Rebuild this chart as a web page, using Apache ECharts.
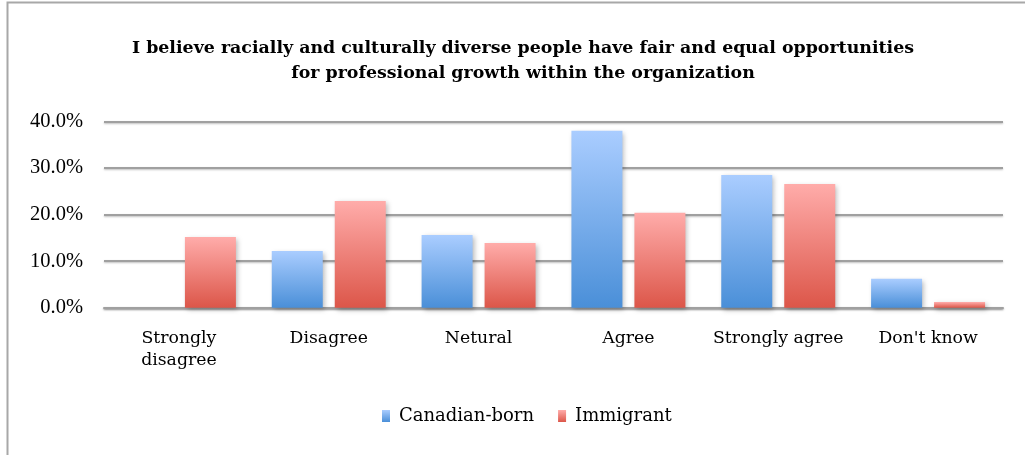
<!DOCTYPE html>
<html>
<head>
<meta charset="utf-8">
<script src="https://cdn.jsdelivr.net/npm/echarts@6/dist/echarts.min.js"></script>
<style>
html,body{margin:0;padding:0;background:#fff;}
#c{width:1025px;height:455px;}
</style>
</head>
<body>
<div id="c"></div>
<script>
const titleText = 'I believe racially and culturally diverse people have fair and equal opportunities\nfor professional growth within the organization';
const categories = ['Strongly disagree', 'Disagree', 'Netural', 'Agree', 'Strongly agree', "Don't know"];
const canadianBorn = [0, 12.2, 15.6, 38.0, 28.5, 6.2];
const immigrant = [15.2, 22.9, 13.9, 20.4, 26.6, 1.2];
const yTicks = { min: 0, max: 40, interval: 10 };

const chart = echarts.init(document.getElementById('c'), null, { renderer: 'canvas' });

function grad(top, bottom) {
  return new echarts.graphic.LinearGradient(0, 0, 0, 1, [
    { offset: 0, color: top },
    { offset: 1, color: bottom }
  ]);
}
const blue = grad('#aacdff', '#4a8fd8');
const red = grad('#ffacaa', '#dc5649');
const barShadow = { shadowBlur: 5, shadowColor: 'rgba(0,0,0,0.28)', shadowOffsetX: 2, shadowOffsetY: 2 };

chart.setOption({
  backgroundColor: '#fff',
  animation: false,
  graphic: [{
    type: 'rect',
    shape: { x: 7.5, y: 2.5, width: 1040, height: 470 },
    style: { fill: 'none', stroke: '#a8a8a8', lineWidth: 2 },
    silent: true,
    z: 0
  }],
  title: {
    text: titleText,
    left: 518,
    top: 31,
    textAlign: 'center',
    textStyle: {
      fontFamily: 'DejaVu Serif',
      fontWeight: 'bold',
      fontSize: 17.4,
      lineHeight: 25,
      color: '#000'
    }
  },
  legend: {
    left: 377,
    top: 402,
    itemWidth: 8,
    itemHeight: 12,
    itemGap: 24,
    icon: 'rect',
    textStyle: {
      fontFamily: 'DejaVu Serif',
      fontSize: 18,
      color: '#000',
      padding: [0, 0, 0, 4]
    },
    data: [
      { name: 'Canadian-born', itemStyle: { color: blue } },
      { name: 'Immigrant', itemStyle: { color: red } }
    ]
  },
  grid: { left: 104, right: 22, top: 121.5, bottom: 147.3, containLabel: false },
  xAxis: {
    type: 'category',
    data: categories,
    axisLine: { show: true, lineStyle: { color: '#a0a0a0', width: 2, shadowBlur: 2, shadowColor: 'rgba(0,0,0,0.25)', shadowOffsetY: 1 } },
    axisTick: { show: false },
    axisLabel: {
      margin: 20,
      fontFamily: 'DejaVu Serif',
      fontSize: 17.3,
      lineHeight: 22,
      color: '#000',
      interval: 0,
      formatter: v => v === 'Strongly disagree' ? 'Strongly\ndisagree' : v
    }
  },
  yAxis: {
    type: 'value',
    min: yTicks.min,
    max: yTicks.max,
    interval: yTicks.interval,
    axisLine: { show: false },
    axisTick: { show: false },
    splitLine: { show: true, lineStyle: { color: '#a0a0a0', width: 2, shadowBlur: 2, shadowColor: 'rgba(0,0,0,0.25)', shadowOffsetY: 1 } },
    axisLabel: {
      margin: 21,
      fontFamily: 'Liberation Serif',
      fontSize: 20.5,
      color: '#000',
      formatter: v => v.toFixed(1) + '%'
    }
  },
  series: [
    {
      name: 'Canadian-born',
      type: 'bar',
      data: canadianBorn,
      barWidth: 51,
      barGap: '23.5%',
      itemStyle: Object.assign({ color: blue }, barShadow)
    },
    {
      name: 'Immigrant',
      type: 'bar',
      data: immigrant,
      barWidth: 51,
      barGap: '23.5%',
      itemStyle: Object.assign({ color: red }, barShadow)
    }
  ]
});
</script>
</body>
</html>
